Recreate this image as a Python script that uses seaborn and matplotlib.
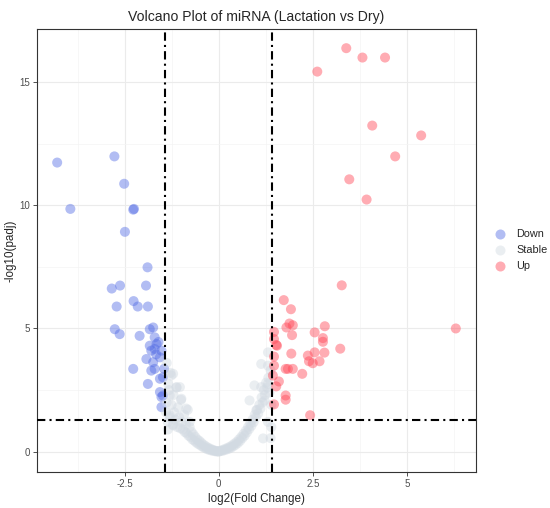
import matplotlib
matplotlib.use("Agg")
import matplotlib.pyplot as plt
import seaborn as sns
import pandas as pd

# Down-regulated miRNA (log2FC, -log10 padj)
down_x = [-4.29, -2.77, -2.51, -3.94, -2.25, -2.27, -2.49, -1.89, -2.84, -2.62,
          -1.93, -2.26, -2.71, -2.15, -1.88, -2.76, -2.63, -2.10, -1.83, -1.74,
          -1.70, -1.83, -1.65, -1.79, -1.70, -1.52, -1.56, -1.92, -1.74, -1.70,
          -1.79, -1.45, -2.27, -1.88, -1.56, -1.48, -1.56, -1.52, -1.48, -1.52,
          -1.60, -1.66]
down_y = [11.73, 11.98, 10.87, 9.85, 9.85, 9.82, 8.92, 7.48, 6.62, 6.74,
          6.74, 6.11, 5.89, 5.89, 5.89, 4.97, 4.77, 4.70, 4.97, 5.04,
          4.64, 4.30, 4.37, 4.10, 4.17, 4.10, 3.83, 3.76, 3.63, 3.36,
          3.29, 3.36, 3.36, 2.75, 2.96, 3.02, 2.42, 2.22, 2.28, 1.81,
          4.45, 3.95]

# Up-regulated miRNA
up_x = [3.39, 3.82, 4.42, 2.62, 4.08, 5.38, 4.69, 3.47, 3.93, 3.27,
        1.73, 1.92, 1.88, 1.97, 1.80, 1.95, 1.47, 1.47, 1.53, 1.55,
        2.55, 2.82, 2.77, 2.77, 3.23, 2.55, 2.81, 1.93, 2.37, 2.40,
        2.50, 2.68, 1.47, 1.47, 1.78, 1.84, 1.97, 2.22, 1.44, 1.60,
        1.53, 1.78, 1.78, 1.47, 2.43, 6.30]
up_y = [16.37, 15.99, 15.99, 15.42, 13.23, 12.83, 11.98, 11.05, 10.23, 6.75,
        6.15, 5.78, 5.20, 5.13, 5.04, 4.73, 4.86, 4.57, 4.33, 4.30,
        4.84, 5.09, 4.61, 4.46, 4.18, 4.03, 4.02, 3.98, 3.90, 3.67,
        3.59, 3.67, 3.86, 3.49, 3.36, 3.36, 3.36, 3.16, 3.09, 2.85,
        2.65, 2.28, 2.11, 1.92, 1.48, 5.00]

# Stable miRNA
stable_x = [-1.40, -1.38, -1.35, -1.32, -1.30, -1.28, -1.25, -1.22, -1.20, -1.18,
            -1.15, -1.12, -1.10, -1.08, -1.05, -1.02, -1.00, -0.98, -0.95, -0.92,
            -0.90, -0.87, -0.85, -0.82, -0.80, -0.77, -0.75, -0.72, -0.70, -0.67,
            -0.65, -0.62, -0.60, -0.57, -0.55, -0.52, -0.50, -0.47, -0.45, -0.42,
            -0.40, -0.37, -0.35, -0.32, -0.30, -0.27, -0.25, -0.22, -0.20, -0.17,
            -0.15, -0.12, -0.10, -0.07, -0.05, -0.02, 0.00,
            -1.21, -1.03, -1.34, -1.30, -0.99, -1.26, -1.12, -0.86, -1.30, -1.21,
            -0.77, -1.38, -1.35,
            0.03, 0.06, 0.09, 0.12, 0.15, 0.18, 0.21, 0.24, 0.27, 0.30,
            0.33, 0.36, 0.39, 0.42, 0.45, 0.48, 0.51, 0.54, 0.57, 0.60,
            0.63, 0.66, 0.69, 0.72, 0.75, 0.78, 0.81, 0.84, 0.87, 0.90,
            0.93, 0.96, 0.99, 1.02, 1.05, 1.08, 1.11, 1.14, 1.17, 1.20,
            1.23, 1.26, 1.29, 1.32, 1.35, 1.38, 1.40,
            1.18, 1.31, 1.13, 1.31, 0.95, 1.13, 1.31, 0.82, 1.22, 1.00,
            1.31, 1.40, 1.38]
stable_y = [1.60, 2.00, 1.20, 2.50, 1.40, 3.20, 1.90, 1.10, 2.30, 1.60,
            1.30, 2.60, 1.00, 1.80, 1.40, 0.95, 2.10, 1.20, 0.90, 1.50,
            0.80, 1.10, 0.75, 1.70, 0.65, 1.00, 0.60, 0.80, 0.50, 0.70,
            0.45, 0.60, 0.38, 0.50, 0.32, 0.45, 0.28, 0.38, 0.22, 0.30,
            0.18, 0.25, 0.14, 0.20, 0.10, 0.15, 0.08, 0.12, 0.05, 0.08,
            0.04, 0.06, 0.02, 0.03, 0.01, 0.02, 0.00,
            3.16, 2.62, 2.75, 2.28, 2.15, 3.09, 2.62, 1.75, 1.48, 1.07,
            1.21, 3.60, 0.90,
            0.02, 0.05, 0.03, 0.08, 0.06, 0.12, 0.09, 0.16, 0.12, 0.20,
            0.16, 0.26, 0.22, 0.33, 0.28, 0.40, 0.35, 0.50, 0.44, 0.60,
            0.55, 0.72, 0.65, 0.85, 0.78, 1.00, 0.92, 1.15, 1.05, 1.30,
            1.20, 1.50, 1.40, 1.70, 1.55, 1.90, 1.75, 2.20, 2.00, 2.50,
            2.30, 2.80, 2.60, 3.00, 2.40, 3.30, 1.90,
            0.54, 4.03, 3.56, 3.49, 2.69, 2.62, 2.75, 2.08, 2.08, 1.68,
            1.21, 1.00, 0.55]

fc_cut = 1.43
padj_cut = 1.301

df = pd.concat([
    pd.DataFrame({"log2FC": down_x, "logp": down_y, "change": "Down"}),
    pd.DataFrame({"log2FC": stable_x, "logp": stable_y, "change": "Stable"}),
    pd.DataFrame({"log2FC": up_x, "logp": up_y, "change": "Up"}),
], ignore_index=True)

sns.set_style("white")
plt.rcParams["font.family"] = ["Liberation Sans", "DejaVu Sans"]

fig = plt.figure(figsize=(5.5, 5.08), dpi=100)
ax = fig.add_axes([0.067, 0.071, 0.798, 0.872])

palette = {"Down": "#546de5", "Stable": "#d2dae2", "Up": "#ff4757"}
sns.scatterplot(data=df, x="log2FC", y="logp", hue="change",
                hue_order=["Down", "Stable", "Up"], palette=palette,
                alpha=0.45, s=52, linewidth=0, ax=ax, zorder=3)

# threshold lines
dash = (0, (4, 2, 1, 2))
ax.axvline(-fc_cut, color="black", lw=1.5, ls=dash, zorder=4)
ax.axvline(fc_cut, color="black", lw=1.5, ls=dash, zorder=4)
ax.axhline(padj_cut, color="black", lw=1.5, ls=dash, zorder=4)

ax.set_xlim(-4.83, 6.83)
ax.set_ylim(-0.82, 17.15)
ax.set_xticks([-2.5, 0, 2.5, 5])
ax.set_xticklabels(["-2.5", "0", "2.5", "5"])
ax.set_yticks([0, 5, 10, 15])
ax.set_xticks([-3.75, -1.25, 1.25, 3.75, 6.25], minor=True)
ax.set_yticks([2.5, 7.5, 12.5], minor=True)
ax.grid(True, which="major", color="#ebebeb", lw=0.8, zorder=0)
ax.grid(True, which="minor", color="#f4f4f4", lw=0.5, zorder=0)
ax.set_axisbelow(True)
ax.tick_params(axis="both", which="major", length=3, width=0.6, color="#333333",
               labelsize=7, labelcolor="#4d4d4d", pad=2, bottom=True, left=True)
ax.tick_params(axis="both", which="minor", length=0)
for sp in ax.spines.values():
    sp.set_color("#333333")
    sp.set_linewidth(0.8)

ax.set_xlabel("log2(Fold Change)", fontsize=8.4, labelpad=3)
ax.set_ylabel("-log10(padj)", fontsize=8.4, labelpad=2)
ax.set_title("Volcano Plot of miRNA (Lactation vs Dry)", fontsize=10.1, pad=6)

sns.move_legend(ax, "center left", bbox_to_anchor=(1.035, 0.5), title=None,
                frameon=False, fontsize=7.8, handletextpad=0.9, labelspacing=0.55,
                borderaxespad=0, borderpad=0.2, handlelength=1.2)

fig.savefig("out.png", dpi=100)
